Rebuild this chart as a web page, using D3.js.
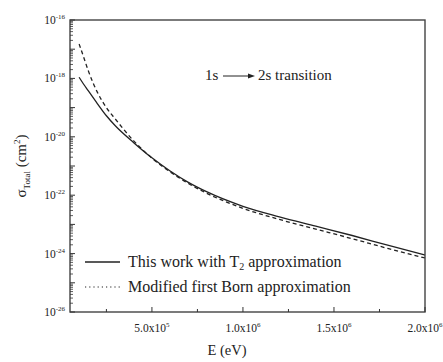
<!DOCTYPE html>
<html>
<head>
<meta charset="utf-8">
<script src="https://cdn.jsdelivr.net/npm/d3@7"></script>
<style>
	body { margin: 0; background: #fff; }
	text { font-family: "Liberation Serif", "DejaVu Serif", serif; fill: #222; }
</style>
</head>
<body>
<div id="wrapper"></div>
<script>
// energies in eV
const energy = [1e5, 1.25e5, 1.5e5, 2e5, 2.5e5, 3e5, 4e5, 5e5, 6e5, 7e5, 8e5, 1e6, 1.2e6, 1.4e6, 1.6e6, 1.8e6, 2e6];
// log10 of total cross section (cm^2)
const t2Log = [-17.96, -18.20, -18.42, -18.86, -19.28, -19.63, -20.20, -20.72, -21.17, -21.56, -21.88, -22.38, -22.74, -23.06, -23.38, -23.72, -24.05];
const bornLog = [-16.82, -17.27, -17.73, -18.47, -19.00, -19.40, -20.14, -20.73, -21.20, -21.60, -21.93, -22.45, -22.83, -23.16, -23.49, -23.83, -24.15];

const xTicks = [5e5, 1e6, 1.5e6, 2e6];
const xTickLabels = [["5.0x10", "5"], ["1.0x10", "6"], ["1.5x10", "6"], ["2.0x10", "6"]];
const xMinorTicks = [2.5e5, 7.5e5, 1.25e6, 1.75e6];
const yLabelExps = [-16, -18, -20, -22, -24, -26];

const seriesNames = ["This work with T", "Modified first Born approximation"];

let dimensions = {
	width: 443,
	height: 362,
	margin: { top: 20, right: 18, bottom: 50, left: 70 }
};
dimensions.boundedWidth = dimensions.width - dimensions.margin.left - dimensions.margin.right;
dimensions.boundedHeight = dimensions.height - dimensions.margin.top - dimensions.margin.bottom;

const svg = d3.select("#wrapper").append("svg")
	.attr("width", dimensions.width)
	.attr("height", dimensions.height);

const bounds = svg.append("g")
	.attr("transform", `translate(${dimensions.margin.left},${dimensions.margin.top})`);

const xScale = d3.scaleLinear()
	.domain([5e4, 2e6])
	.range([0, dimensions.boundedWidth]);

const yScale = d3.scaleLog()
	.domain([1e-26, 1e-16])
	.range([dimensions.boundedHeight, 0]);

// curves
const t2Data = energy.map((e, i) => ({ e, s: Math.pow(10, t2Log[i]) }));
const bornData = energy.map((e, i) => ({ e, s: Math.pow(10, bornLog[i]) }));

const lineGenerator = d3.line()
	.x(d => xScale(d.e))
	.y(d => yScale(d.s))
	.curve(d3.curveMonotoneX);

bounds.append("path")
	.attr("d", lineGenerator(bornData))
	.attr("fill", "none")
	.attr("stroke", "#222")
	.attr("stroke-width", 1.3)
	.attr("stroke-dasharray", "4,3");

bounds.append("path")
	.attr("d", lineGenerator(t2Data))
	.attr("fill", "none")
	.attr("stroke", "#222")
	.attr("stroke-width", 1.3);

// frame
bounds.append("rect")
	.attr("width", dimensions.boundedWidth)
	.attr("height", dimensions.boundedHeight)
	.attr("fill", "none")
	.attr("stroke", "#444")
	.attr("stroke-width", 1.4);

// x axis
const xAxis = bounds.append("g")
	.attr("transform", `translate(0,${dimensions.boundedHeight})`);

xAxis.selectAll(".major")
	.data(xTicks)
	.join("line")
	.attr("x1", d => xScale(d)).attr("x2", d => xScale(d))
	.attr("y1", 0).attr("y2", -5)
	.attr("stroke", "#333");

xAxis.selectAll(".minor")
	.data(xMinorTicks)
	.join("line")
	.attr("class", "minor")
	.attr("x1", d => xScale(d)).attr("x2", d => xScale(d))
	.attr("y1", 0).attr("y2", -3)
	.attr("stroke", "#333");

const xLabels = xAxis.selectAll(".xlabel")
	.data(xTicks)
	.join("text")
	.attr("class", "xlabel")
	.attr("x", d => xScale(d))
	.attr("y", 20)
	.attr("text-anchor", "middle")
	.style("font-size", "11.5px");
xLabels.append("tspan").text((d, i) => xTickLabels[i][0]);
xLabels.append("tspan").attr("dy", -5).style("font-size", "7px").text((d, i) => xTickLabels[i][1]);

// y axis
const yAxis = bounds.append("g");
const yMajor = d3.range(-26, -15).map(p => Math.pow(10, p));
const yMinor = [];
for (let p = -26; p < -16; p++) {
	for (let k = 2; k <= 9; k++) yMinor.push(k * Math.pow(10, p));
}

yAxis.selectAll(".ymajor")
	.data(yMajor)
	.join("line")
	.attr("class", "ymajor")
	.attr("x1", 0).attr("x2", 5)
	.attr("y1", d => yScale(d)).attr("y2", d => yScale(d))
	.attr("stroke", "#333");

yAxis.selectAll(".yminor")
	.data(yMinor)
	.join("line")
	.attr("class", "yminor")
	.attr("x1", 0).attr("x2", 3)
	.attr("y1", d => yScale(d)).attr("y2", d => yScale(d))
	.attr("stroke", "#333")
	.attr("stroke-width", 0.8);

const yLabels = yAxis.selectAll(".ylabel")
	.data(yLabelExps)
	.join("text")
	.attr("class", "ylabel")
	.attr("x", -5)
	.attr("y", d => yScale(Math.pow(10, d)) + 4)
	.attr("text-anchor", "end")
	.style("font-size", "11.5px");
yLabels.append("tspan").text("10");
yLabels.append("tspan").attr("dy", -5).style("font-size", "7px").text(d => d);

// axis titles
svg.append("text")
	.attr("x", 227)
	.attr("y", 355)
	.attr("text-anchor", "middle")
	.style("font-size", "14.5px")
	.text("E (eV)");

const yTitle = svg.append("text")
	.attr("transform", `translate(26,${dimensions.margin.top + dimensions.boundedHeight / 2}) rotate(-90)`)
	.attr("text-anchor", "middle")
	.style("font-size", "15px");
yTitle.append("tspan").text("σ");
yTitle.append("tspan").attr("dy", 4).style("font-size", "9px").text("Total");
yTitle.append("tspan").attr("dy", -4).text(" (cm");
yTitle.append("tspan").attr("dy", -6).style("font-size", "9px").text("2");
yTitle.append("tspan").attr("dy", 6).text(")");

// annotation
const note = bounds.append("g").attr("transform", "translate(135,60)");
note.append("text").attr("x", 0).attr("y", 0).style("font-size", "15px").text("1s");
note.append("line")
	.attr("x1", 18).attr("x2", 45).attr("y1", -4).attr("y2", -4)
	.attr("stroke", "#222").attr("stroke-width", 1);
note.append("path")
	.attr("d", "M43,-6.5 L50,-4 L43,-1.5 Z")
	.attr("fill", "#222");
note.append("text").attr("x", 53).attr("y", 0).style("font-size", "15px").text("2s transition");

// legend
const legend = bounds.append("g").attr("transform", "translate(15,242)");
legend.append("line")
	.attr("x1", 0).attr("x2", 35).attr("y1", 0).attr("y2", 0)
	.attr("stroke", "#222").attr("stroke-width", 1.3);
const l1 = legend.append("text").attr("x", 43).attr("y", 5).style("font-size", "16px");
l1.append("tspan").text(seriesNames[0]);
l1.append("tspan").attr("dy", 3).style("font-size", "10px").text("2");
l1.append("tspan").attr("dy", -3).text(" approximation");

legend.append("line")
	.attr("x1", 0).attr("x2", 35).attr("y1", 25).attr("y2", 25)
	.attr("stroke", "#222").attr("stroke-width", 1.1)
	.attr("stroke-dasharray", "1.2,3");
legend.append("text").attr("x", 43).attr("y", 30).style("font-size", "16px").text(seriesNames[1]);
</script>
</body>
</html>
